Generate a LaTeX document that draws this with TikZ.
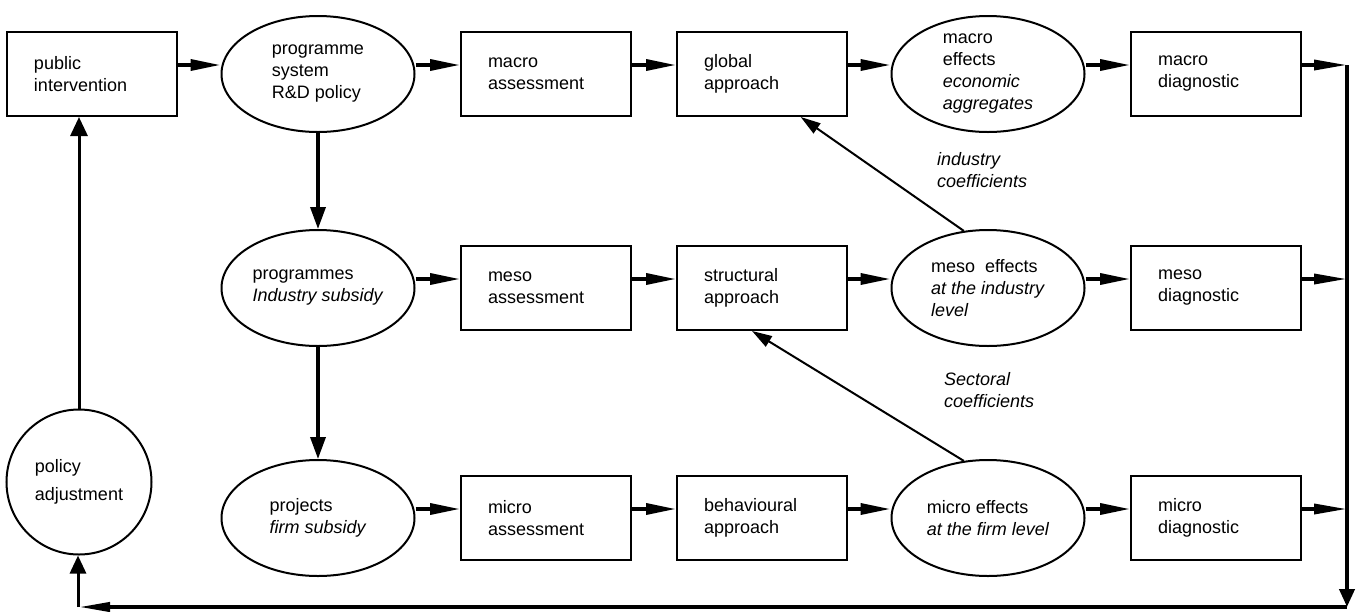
\documentclass[tikz,border=0pt]{standalone}
\usepackage{fontspec}
\setmainfont{Liberation Sans}
\usetikzlibrary{arrows.meta,calc,shapes.geometric}
\begin{document}
\begin{tikzpicture}[x=1pt,y=-1pt,
  every node/.style={font=\fontsize{18}{22}\selectfont},
  box/.style={draw,line width=2pt,rectangle,minimum height=84pt,text width=116pt,inner xsep=27pt,inner ysep=0pt,align=left},
  oval/.style={draw,line width=2pt,ellipse,minimum width=193pt,minimum height=116pt,inner sep=0pt,align=left},
  flow/.style={line width=3.5pt,-{Triangle[length=30pt,width=11pt]}},
  vflow/.style={line width=3.5pt,-{Triangle[length=22pt,width=15pt]}},
  diag/.style={line width=2pt,-{Triangle[length=20pt,width=12pt]}},
  loopline/.style={line width=4pt},
  lbl/.style={anchor=west,align=left,inner sep=0pt,font=\fontsize{18}{22}\selectfont\itshape}
]
\useasboundingbox (0,0) rectangle (1361,611);

% row 1
\node[box] (pi) at (92,74) {public\\intervention};
\node[oval] (prog) at (318,74) {programme\\system\\R\&D policy};
\node[box] (maa) at (546,74) {macro\\assessment};
\node[box] (glob) at (762,74) {global\\approach};
\node[oval] (mae) at (988,74) {macro\\effects\\\textit{economic}\\\textit{aggregates}};
\node[box] (mad) at (1216,74) {macro\\diagnostic};

% row 2
\node[oval] (progs) at (318,288) {programmes\\\textit{Industry subsidy}};
\node[box] (mesa) at (546,288) {meso\\assessment};
\node[box] (struct) at (762,288) {structural\\approach};
\node[oval] (mee) at (988,288) {meso\ \ effects\\\textit{at the industry}\\\textit{level}};
\node[box] (med) at (1216,288) {meso\\diagnostic};

% row 3
\node[oval] (proj) at (318,518) {projects\\\textit{firm subsidy}};
\node[box] (mia) at (546,518) {micro\\assessment};
\node[box] (beh) at (762,518) {behavioural\\approach};
\node[oval] (mie) at (988,518) {micro effects\\\textit{at the firm level}};
\node[box] (mid) at (1216,518) {micro\\diagnostic};

% policy adjustment
\node[circle,draw,line width=2pt,minimum size=145pt,inner sep=0pt,align=left,font=\fontsize{18}{28}\selectfont] (pol) at (79,482) {policy\\adjustment};

% labels
\node[lbl] (ic) at (937,170) {industry\\coefficients};
\node[lbl] (sc) at (944,390) {Sectoral\\coefficients};

% horizontal flows
\foreach \a/\b in {pi/prog, prog/maa, maa/glob, glob/mae, mae/mad,
                   progs/mesa, mesa/struct, struct/mee, mee/med,
                   proj/mia, mia/beh, beh/mie, mie/mid}
  \draw[flow] ($(\a.east)+(0,-9)$) -- ($(\b.west)+(0,-9)$);

% vertical flows
\draw[vflow] (prog.south) -- (progs.north);
\draw[vflow] (progs.south) -- (proj.north);

% diagonals
\draw[diag] (mee.113) -- ($(glob.south)!0.45!(glob.south east)$);
\draw[diag] (mie.113) -- ($(struct.south)+(-10,0)$);

% feedback loop
\coordinate (tr) at (1347,65);
\coordinate (br) at (1347,607);
\coordinate (bl) at (78,607);
\draw[flow,-{Triangle[length=33pt,width=10pt]}] ($(mad.east)+(0,-9)$) coordinate (s1) -- (s1 -| tr);
\draw[flow,-{Triangle[length=33pt,width=10pt]}] ($(med.east)+(0,-9)$) coordinate (s2) -- (s2 -| tr);
\draw[flow,-{Triangle[length=33pt,width=10pt]}] ($(mid.east)+(0,-9)$) coordinate (s3) -- (s3 -| tr);
\draw[loopline,-{Triangle[length=18pt,width=15pt]}] (tr) -- (br);
\draw[loopline,-{Triangle[length=32pt,width=9pt]}] (br) -- (bl);
\draw[line width=3pt,-{Triangle[length=18pt,width=16pt]}] (bl) -- (bl |- pol.south);
\draw[line width=3pt,-{Triangle[length=19pt,width=17pt]}] (pol.north) -- (pol.north |- pi.south);
\end{tikzpicture}
\end{document}
